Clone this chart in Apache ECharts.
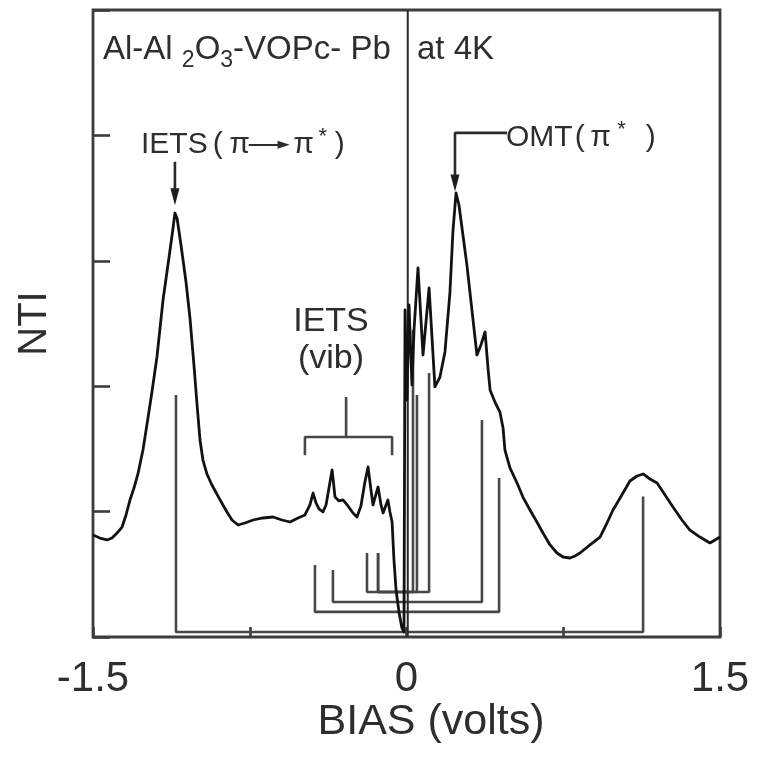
<!DOCTYPE html>
<html>
<head>
<meta charset="utf-8">
<script src="https://cdn.jsdelivr.net/npm/echarts@6/dist/echarts.min.js"></script>
<style>
  html, body { margin: 0; padding: 0; background: #fff; }
  #chart { width: 761px; height: 762px; }
</style>
</head>
<body>
<div id="chart"></div>
<script>
// Tunneling spectrum: normalized tunneling intensity (NTI) vs. bias voltage
const biasV = [
  -1.500, -1.467, -1.433, -1.409, -1.385, -1.361, -1.342, -1.323, -1.304, -1.285,
  -1.261, -1.237, -1.218, -1.194, -1.165, -1.136, -1.117, -1.108, -1.098, -1.079,
  -1.055, -1.036, -1.017, -1.002, -0.988, -0.974, -0.955, -0.931, -0.892, -0.859,
  -0.835, -0.806, -0.773, -0.734, -0.687, -0.639, -0.596, -0.557, -0.519, -0.486,
  -0.462, -0.447, -0.433, -0.419, -0.400, -0.385, -0.371, -0.356, -0.342, -0.323,
  -0.304, -0.280, -0.256, -0.237, -0.218, -0.199, -0.184, -0.170, -0.160, -0.146,
  -0.136, -0.122, -0.112, -0.098, -0.089, -0.079, -0.069, -0.060, -0.050, -0.036,
  -0.022, -0.012, -0.007, 0.002, 0.012, 0.026, 0.036, 0.055, 0.079, 0.108,
  0.136, 0.160, 0.184, 0.208, 0.222, 0.237, 0.251, 0.270, 0.289, 0.313,
  0.337, 0.356, 0.376, 0.390, 0.400, 0.423, 0.447, 0.462, 0.471, 0.495,
  0.529, 0.557, 0.591, 0.624, 0.653, 0.687, 0.720, 0.749, 0.782, 0.806,
  0.830, 0.878, 0.926, 0.959, 0.988, 1.022, 1.069, 1.103, 1.132, 1.165,
  1.199, 1.237, 1.275, 1.318, 1.356, 1.404, 1.452, 1.476, 1.500
];
const ntiY = [
  0.813, 0.789, 0.774, 0.789, 0.829, 0.877, 0.973, 1.093, 1.188, 1.300,
  1.491, 1.746, 1.954, 2.233, 2.687, 3.030, 3.262, 3.381, 3.341, 3.126,
  2.831, 2.544, 2.169, 1.850, 1.571, 1.411, 1.300, 1.212, 1.093, 0.997,
  0.933, 0.893, 0.909, 0.933, 0.949, 0.957, 0.933, 0.917, 0.949, 0.973,
  1.053, 1.148, 1.069, 1.021, 0.997, 1.053, 1.188, 1.332, 1.116, 1.085,
  1.093, 1.045, 0.989, 0.957, 1.045, 1.236, 1.356, 1.172, 1.053, 1.140,
  1.196, 1.053, 0.989, 1.053, 1.093, 0.997, 0.917, 0.614, 0.375, 0.199,
  0.072, 0.040, 2.608, 1.890, 2.648, 2.010, 2.448, 2.943, 2.249, 2.783,
  1.994, 2.073, 2.273, 2.751, 3.230, 3.541, 3.445, 3.206, 2.967, 2.608,
  2.249, 2.329, 2.432, 2.145, 1.970, 1.874, 1.794, 1.667, 1.491, 1.348,
  1.228, 1.116, 1.013, 0.917, 0.829, 0.734, 0.670, 0.638, 0.630, 0.646,
  0.670, 0.734, 0.797, 0.909, 1.013, 1.108, 1.244, 1.284, 1.300, 1.260,
  1.228, 1.132, 1.037, 0.933, 0.853, 0.797, 0.750, 0.774, 0.797
];

// Correspondence links between negative- and positive-bias features
const linkLeftV   = [-1.103, -0.438, -0.352, -0.189, -0.136, -0.136];
const linkLeftTop = [ 1.930,  0.574,  0.534,  0.670,  0.670,  0.670];
const linkRightV  = [ 1.132,  0.443,  0.361,  0.108,  0.050,  0.031];
const linkRightTop= [ 1.120,  1.268,  1.730,  2.105,  1.930,  2.450];
const linkBarY    = [ 0.040,  0.200,  0.279,  0.359,  0.359,  0.359];

// Bracket grouping the vibrational IETS peaks
const vibBracketV = [-0.486, -0.289, -0.069];   // left end, stem, right end
const vibBracketY = [1.450, 1.595, 1.914];       // leg bottom, bar, stem top

// Zero-bias marker and peak pointers
const zeroBiasV = 0.006;
const ietsPeakV = -1.108;
const ietsArrowY = [3.79, 3.51];
const omtPeakV = 0.232;
const omtLabelV = 0.481;
const omtArrowY = [4.02, 3.62];

const xTickLabels = ['-1.5', '0', '1.5'];
const yRange = [0, 5];

const curve = biasV.map((v, i) => [v, ntiY[i]]);

const ink = '#2e2e2e';
const fontMain = '"Liberation Sans", Arial, Helvetica, sans-serif';

const linkSeries = linkLeftV.map((lv, i) => ({
  type: 'line',
  data: [[lv, linkLeftTop[i]], [lv, linkBarY[i]], [linkRightV[i], linkBarY[i]], [linkRightV[i], linkRightTop[i]]],
  symbol: 'none',
  lineStyle: { color: '#474747', width: 2.6 },
  silent: true, z: 2
}));

const vibBracket = {
  type: 'line',
  data: [
    [vibBracketV[0], vibBracketY[0]], [vibBracketV[0], vibBracketY[1]],
    [vibBracketV[2], vibBracketY[1]], [vibBracketV[2], vibBracketY[0]]
  ],
  symbol: 'none',
  lineStyle: { color: '#474747', width: 2.6 },
  silent: true, z: 2
};
const vibStem = {
  type: 'line',
  data: [[vibBracketV[1], vibBracketY[1]], [vibBracketV[1], vibBracketY[2]]],
  symbol: 'none',
  lineStyle: { color: '#474747', width: 2.6 },
  silent: true, z: 2
};

const zeroLine = {
  type: 'line',
  data: [[zeroBiasV, yRange[0]], [zeroBiasV, yRange[1]]],
  symbol: 'none',
  lineStyle: { color: '#2a2a2a', width: 2 },
  silent: true, z: 2
};

const arrowHead = { symbol: 'triangle', symbolSize: [9, 17], symbolRotate: 180, itemStyle: { color: '#1e1e1e' } };

const ietsArrow = {
  type: 'line',
  data: [
    { value: [ietsPeakV, ietsArrowY[0]], symbol: 'none' },
    Object.assign({ value: [ietsPeakV, ietsArrowY[1]] }, arrowHead)
  ],
  lineStyle: { color: '#2a2a2a', width: 2.6 },
  silent: true, z: 3
};
const omtArrow = {
  type: 'line',
  data: [
    { value: [omtLabelV, omtArrowY[0]], symbol: 'none' },
    { value: [omtPeakV, omtArrowY[0]], symbol: 'none' },
    Object.assign({ value: [omtPeakV, omtArrowY[1]] }, arrowHead)
  ],
  lineStyle: { color: '#2a2a2a', width: 2.6 },
  silent: true, z: 3
};

const spectrum = {
  type: 'line',
  data: curve,
  symbol: 'none',
  smooth: false,
  lineStyle: { color: '#121212', width: 2.8, join: 'round' },
  silent: true, z: 5
};

// Rich-text token styles for the peak captions
const capRich = {
  lp: { fontFamily: fontMain, fontSize: 30, fill: ink, width: 20, align: 'center' },
  pi: { fontFamily: fontMain, fontSize: 30, fill: ink, width: 24, align: 'center' },
  ad: { fontFamily: fontMain, fontSize: 30, fill: ink, width: 24, align: 'right' },
  ah: { fontFamily: '"DejaVu Sans", sans-serif', fontSize: 16, fill: ink, width: 16, align: 'left' },
  st: { fontFamily: fontMain, fontSize: 22, fill: ink, width: 14, align: 'center', verticalAlign: 'top', lineHeight: 22 },
  rp: { fontFamily: fontMain, fontSize: 30, fill: ink, width: 20, align: 'center' },
  lp2: { fontFamily: fontMain, fontSize: 30, fill: ink, width: 14, align: 'center' },
  pi2: { fontFamily: fontMain, fontSize: 30, fill: ink, width: 28, align: 'center' },
  rp2: { fontFamily: fontMain, fontSize: 30, fill: ink, width: 27, align: 'right' }
};

const chart = echarts.init(document.getElementById('chart'), null, { renderer: 'canvas' });
chart.setOption({
  animation: false,
  backgroundColor: '#fff',
  grid: {
    left: 93, right: 41, top: 10, bottom: 125,
    show: true, borderColor: '#3c3c3c', borderWidth: 2.8, backgroundColor: 'transparent'
  },
  xAxis: {
    type: 'value', min: -1.5, max: 1.5, interval: 0.75,
    axisLine: { show: false, onZero: false },
    axisTick: { show: true, inside: true, length: 10, lineStyle: { color: '#3c3c3c', width: 2.6 } },
    axisLabel: {
      show: true, margin: 21, showMinLabel: true, showMaxLabel: true,
      fontFamily: fontMain, fontSize: 42, color: ink,
      formatter: v => { const s = String(v); return xTickLabels.includes(s) ? s : ''; }
    },
    splitLine: { show: false }
  },
  yAxis: {
    type: 'value', min: yRange[0], max: yRange[1], interval: 1,
    name: 'NTI', nameLocation: 'middle', nameGap: 38,
    nameTextStyle: { fontFamily: fontMain, fontSize: 40, color: ink },
    axisLine: { show: false, onZero: false },
    axisTick: { show: true, inside: true, length: 17, lineStyle: { color: '#3c3c3c', width: 2.6 } },
    axisLabel: { show: false },
    splitLine: { show: false }
  },
  graphic: [
    {
      type: 'text', left: 103, top: 28, z: 10,
      style: {
        text: 'Al-Al {s|2}O{s|3}-VOPc- Pb',
        font: '33px ' + fontMain, fill: ink, lineHeight: 44,
        rich: { s: { fontSize: 23, fontFamily: fontMain, verticalAlign: 'bottom', lineHeight: 22, fill: ink } }
      }
    },
    {
      type: 'text', left: 417, top: 28, z: 10,
      style: { text: 'at 4K', font: '33px ' + fontMain, fill: ink, lineHeight: 44 }
    },
    {
      type: 'text', left: 141, top: 126, z: 10,
      style: {
        text: 'IETS{lp|(}{pi|π}{ad|—}{ah|►}{pi|π}{st|*}{rp|)}',
        font: '30px ' + fontMain, fill: ink, lineHeight: 38,
        rich: capRich
      }
    },
    {
      type: 'text', left: 506, top: 119, z: 10,
      style: {
        text: 'OMT{lp2|(}{pi2|π}{st|*}{rp2|)}',
        font: '30px ' + fontMain, fill: ink, lineHeight: 38,
        rich: capRich
      }
    },
    {
      type: 'text', x: 331, y: 303, z: 10,
      style: {
        text: 'IETS\n(vib)', font: '34px ' + fontMain, fill: ink,
        align: 'center', verticalAlign: 'top', lineHeight: 37
      }
    },
    {
      type: 'text', x: 431, y: 701, z: 10,
      style: {
        text: 'BIAS (volts)', font: '43px ' + fontMain, fill: ink,
        align: 'center', verticalAlign: 'top'
      }
    }
  ],
  series: [].concat(linkSeries, [vibBracket, vibStem, zeroLine, ietsArrow, omtArrow, spectrum])
});
</script>
</body>
</html>
